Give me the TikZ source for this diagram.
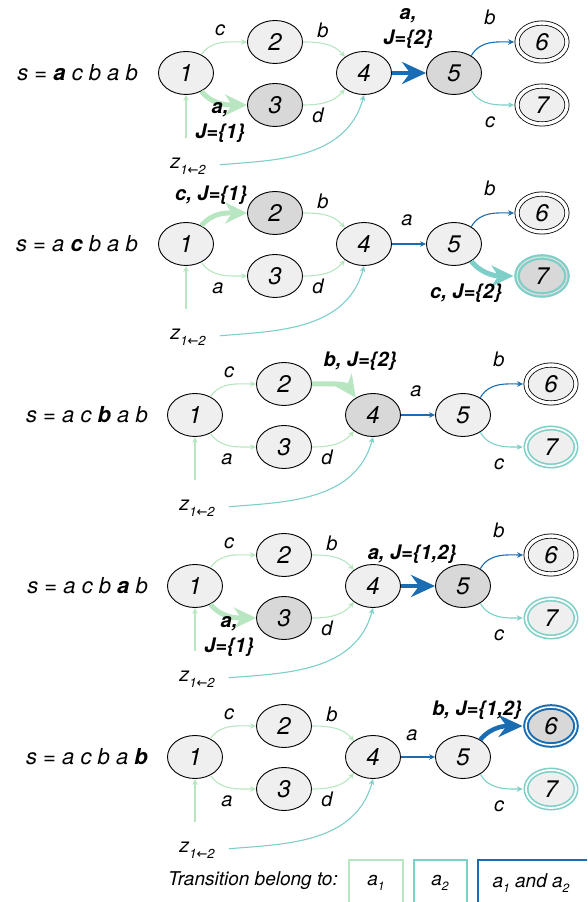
\documentclass[tikz,border=0pt]{standalone}
\usepackage{fontspec}
\setmainfont{TeX Gyre Heros}
\newfontfamily\arrfont{DejaVu Sans}
\usetikzlibrary{shapes.geometric,arrows.meta}
\definecolor{cg}{HTML}{B8E6C1}
\definecolor{ct}{HTML}{7DCFC7}
\definecolor{cb}{HTML}{1A6DB2}
\definecolor{nfill}{HTML}{EFEFEF}
\definecolor{hfill}{HTML}{D8D8D8}
\newcommand{\zlab}{z\raisebox{-6pt}{\fontsize{13}{13}\selectfont 1{\arrfont\upshape ←}2}}
\newcommand{\lsub}[1]{\raisebox{-5pt}{\fontsize{12}{12}\selectfont #1}}
\tikzset{
  st/.style={ellipse, draw=black, line width=0.9pt, fill=nfill, minimum width=55pt, minimum height=43pt, inner sep=0pt, font=\fontsize{24}{24}\selectfont\itshape},
  acc/.style={st, minimum width=50pt, minimum height=38pt, double=white, double distance=3.4pt, line width=0.8pt},
  hl/.style={fill=hfill},
  tring/.style={draw=ct, line width=1.6pt, double=white, double distance=1.8pt},
  tringhl/.style={draw=ct, line width=2.2pt, double=gray!25, double distance=1.2pt, fill=hfill},
  bring/.style={draw=cb, line width=2pt, double=white, double distance=1.6pt, fill=hfill},
  lab/.style={font=\fontsize{20}{20}\selectfont\itshape, inner sep=0pt},
  blab/.style={font=\fontsize{20}{25}\selectfont\bfseries\itshape, inner sep=0pt, align=center},
  slab/.style={font=\fontsize{22}{22}\selectfont\itshape, anchor=east, inner sep=0pt},
  zl/.style={font=\fontsize{20}{20}\selectfont\itshape, inner sep=0pt},
  thin/.style={line width=1.1pt, -{Stealth[length=6pt,width=5.5pt]}},
  ge/.style={thin, draw=cg},
  te/.style={thin, draw=ct},
  be/.style={thin, draw=cb},
  gthick/.style={draw=cg, line width=5pt, -{Stealth[length=22pt,width=21pt,inset=7pt]}},
  tthick/.style={draw=ct, line width=5pt, -{Stealth[length=22pt,width=21pt,inset=7pt]}},
  bthick/.style={draw=cb, line width=4.5pt, -{Stealth[length=24pt,width=22pt,inset=8pt]}},
  legbox/.style={line width=2pt},
  legtext/.style={font=\fontsize{19}{19}\selectfont\itshape, inner sep=0pt},
}
\begin{document}
\begin{tikzpicture}[x=1pt,y=1pt]
\useasboundingbox (0,0) rectangle (587,902);
\clip (0,0) rectangle (587,902);

% ================= Row 1 =================
\begin{scope}[shift={(186,829)}]
\node[slab] (r1s) at (-48,0) {s = \textbf{a} c b a b};
\node[st] (r1n1) at (0,0) {1};
\node[st] (r1n2) at (89,31) {2};
\node[st,hl] (r1n3) at (89,-32) {3};
\node[st] (r1n4) at (178,0) {4};
\node[st,hl] (r1n5) at (268,0) {5};
\node[acc] (r1n6) at (356,31) {6};
\node[acc] (r1n7) at (356,-32) {7};
\node[zl] (r1z) at (2,-93) {\zlab};
\draw[ge] (r1n1.50) to[out=55,in=180] (r1n2.west);
\draw[gthick] (r1n1.-50) to[out=-50,in=180] (r1n3.west);
\draw[ge] (r1n2.east) to[out=0,in=130] (r1n4.140);
\draw[ge] (r1n3.east) to[out=0,in=-130] (r1n4.-140);
\draw[bthick] (r1n4.east) -- (r1n5.west);
\draw[be,shorten >=2.5pt] (r1n5.45) to[out=60,in=180] (r1n6.west);
\draw[te,shorten >=2.5pt] (r1n5.-45) to[out=-60,in=180] (r1n7.west);
\draw[ge,shorten <=20pt] (r1z.north -| r1n1.south) -- (r1n1.south);
\draw[te,shorten <=14pt] (r1z.east) to[out=5,in=-105] (r1n4.south);
\node[lab] (r1c) at (34,43) {c};
\node[lab] (r1b) at (137,43) {b};
\node[lab] (r1d) at (132,-42) {d};
\node[lab] (r1b2) at (304,56) {b};
\node[lab] (r1c2) at (304,-49) {c};
\node[blab] (r1j1) at (34,-50) {a,\\J=\{1\}};
\node[blab] (r1j2) at (222,44) {a,\\J=\{2\}};
\end{scope}

% ================= Row 2 =================
\begin{scope}[shift={(186,658)}]
\node[slab] (r2s) at (-48,0) {s = a \textbf{c} b a b};
\node[st] (r2n1) at (0,0) {1};
\node[st,hl] (r2n2) at (89,31) {2};
\node[st] (r2n3) at (89,-32) {3};
\node[st] (r2n4) at (178,0) {4};
\node[st] (r2n5) at (268,0) {5};
\node[acc] (r2n6) at (356,31) {6};
\node[acc,tringhl] (r2n7) at (356,-32) {7};
\node[zl] (r2z) at (2,-93) {\zlab};
\draw[gthick] (r2n1.50) to[out=50,in=180] (r2n2.west);
\draw[ge] (r2n1.-50) to[out=-55,in=180] (r2n3.west);
\draw[ge] (r2n2.east) to[out=0,in=130] (r2n4.140);
\draw[ge] (r2n3.east) to[out=0,in=-130] (r2n4.-140);
\draw[be] (r2n4.east) -- (r2n5.west);
\draw[be,shorten >=2.5pt] (r2n5.45) to[out=60,in=180] (r2n6.west);
\draw[tthick,shorten >=2.5pt] (r2n5.-45) to[out=-50,in=180] (r2n7.west);
\draw[ge,shorten <=20pt] (r2z.north -| r2n1.south) -- (r2n1.south);
\draw[te,shorten <=14pt] (r2z.east) to[out=5,in=-105] (r2n4.south);
\node[lab] (r2a) at (32,-44) {a};
\node[lab] (r2b) at (137,43) {b};
\node[lab] (r2d) at (132,-42) {d};
\node[lab] (r2a2) at (221,24) {a};
\node[lab] (r2b2) at (304,56) {b};
\node[blab] (r2j1) at (25,49) {c, J=\{1\}};
\node[blab] (r2j2) at (280,-49) {c, J=\{2\}};
\end{scope}

% ================= Row 3 =================
\begin{scope}[shift={(195,487)}]
\node[slab] (r3s) at (-47,0) {s = a c \textbf{b} a b};
\node[st] (r3n1) at (0,0) {1};
\node[st] (r3n2) at (89,31) {2};
\node[st] (r3n3) at (89,-32) {3};
\node[st,hl] (r3n4) at (178,0) {4};
\node[st] (r3n5) at (268,0) {5};
\node[acc] (r3n6) at (356,31) {6};
\node[acc,tring] (r3n7) at (356,-32) {7};
\node[zl] (r3z) at (2,-93) {\zlab};
\draw[ge] (r3n1.50) to[out=55,in=180] (r3n2.west);
\draw[ge] (r3n1.-50) to[out=-55,in=180] (r3n3.west);
\draw[gthick] (r3n2.east) to[out=0,in=125] (r3n4.135);
\draw[ge] (r3n3.east) to[out=0,in=-130] (r3n4.-140);
\draw[be] (r3n4.east) -- (r3n5.west);
\draw[be,shorten >=2.5pt] (r3n5.45) to[out=60,in=180] (r3n6.west);
\draw[te,shorten >=2.5pt] (r3n5.-45) to[out=-60,in=180] (r3n7.west);
\draw[ge,shorten <=20pt] (r3z.north -| r3n1.south) -- (r3n1.south);
\draw[te,shorten <=14pt] (r3z.east) to[out=5,in=-105] (r3n4.south);
\node[lab] (r3c) at (34,43) {c};
\node[lab] (r3a) at (32,-44) {a};
\node[lab] (r3d) at (132,-42) {d};
\node[lab] (r3a2) at (221,24) {a};
\node[lab] (r3b2) at (304,56) {b};
\node[lab] (r3c2) at (304,-49) {c};
\node[blab] (r3j1) at (165,54) {b, J=\{2\}};
\end{scope}

% ================= Row 4 =================
\begin{scope}[shift={(195,316)}]
\node[slab] (r4s) at (-47,0) {s = a c b \textbf{a} b};
\node[st] (r4n1) at (0,0) {1};
\node[st] (r4n2) at (89,31) {2};
\node[st,hl] (r4n3) at (89,-32) {3};
\node[st] (r4n4) at (178,0) {4};
\node[st,hl] (r4n5) at (268,0) {5};
\node[acc] (r4n6) at (356,31) {6};
\node[acc,tring] (r4n7) at (356,-32) {7};
\node[zl] (r4z) at (2,-93) {\zlab};
\draw[ge] (r4n1.50) to[out=55,in=180] (r4n2.west);
\draw[gthick] (r4n1.-50) to[out=-50,in=180] (r4n3.west);
\draw[ge] (r4n2.east) to[out=0,in=130] (r4n4.140);
\draw[ge] (r4n3.east) to[out=0,in=-130] (r4n4.-140);
\draw[bthick] (r4n4.east) -- (r4n5.west);
\draw[be,shorten >=2.5pt] (r4n5.45) to[out=60,in=180] (r4n6.west);
\draw[te,shorten >=2.5pt] (r4n5.-45) to[out=-60,in=180] (r4n7.west);
\draw[ge,shorten <=20pt] (r4z.north -| r4n1.south) -- (r4n1.south);
\draw[te,shorten <=14pt] (r4z.east) to[out=5,in=-105] (r4n4.south);
\node[lab] (r4c) at (34,43) {c};
\node[lab] (r4b) at (137,43) {b};
\node[lab] (r4d) at (132,-42) {d};
\node[lab] (r4b2) at (304,56) {b};
\node[lab] (r4c2) at (304,-49) {c};
\node[blab] (r4j1) at (34,-51) {a,\\J=\{1\}};
\node[blab] (r4j2) at (217,32) {a, J=\{1,2\}};
\end{scope}

% ================= Row 5 =================
\begin{scope}[shift={(195,145)}]
\node[slab] (r5s) at (-47,0) {s = a c b a \textbf{b}};
\node[st] (r5n1) at (0,0) {1};
\node[st] (r5n2) at (89,31) {2};
\node[st] (r5n3) at (89,-32) {3};
\node[st] (r5n4) at (178,0) {4};
\node[st] (r5n5) at (268,0) {5};
\node[acc,bring] (r5n6) at (356,31) {6};
\node[acc,tring] (r5n7) at (356,-32) {7};
\node[zl] (r5z) at (2,-93) {\zlab};
\draw[ge] (r5n1.50) to[out=55,in=180] (r5n2.west);
\draw[ge] (r5n1.-50) to[out=-55,in=180] (r5n3.west);
\draw[ge] (r5n2.east) to[out=0,in=130] (r5n4.140);
\draw[ge] (r5n3.east) to[out=0,in=-130] (r5n4.-140);
\draw[be] (r5n4.east) -- (r5n5.west);
\draw[bthick,shorten >=2.5pt] (r5n5.45) to[out=50,in=180] (r5n6.west);
\draw[te,shorten >=2.5pt] (r5n5.-45) to[out=-60,in=180] (r5n7.west);
\draw[ge,shorten <=20pt] (r5z.north -| r5n1.south) -- (r5n1.south);
\draw[te,shorten <=14pt] (r5z.east) to[out=5,in=-105] (r5n4.south);
\node[lab] (r5c) at (34,43) {c};
\node[lab] (r5a) at (32,-44) {a};
\node[lab] (r5b) at (137,43) {b};
\node[lab] (r5d) at (132,-42) {d};
\node[lab] (r5a2) at (217,22) {a};
\node[lab] (r5c2) at (304,-49) {c};
\node[blab] (r5j1) at (282,47) {b, J=\{1,2\}};
\end{scope}

% ================= Legend =================
\node[legtext, anchor=east] (legt) at (338,21) {Transition belong to:};
\draw[legbox, draw=cg] (349,-10) rectangle (403,42);
\draw[legbox, draw=ct] (414,-10) rectangle (467,42);
\draw[legbox, draw=cb] (478,-10) rectangle (600,42);
\node[legtext] (lg1) at (376,19) {a\lsub{1}};
\node[legtext] (lg2) at (440,19) {a\lsub{2}};
\node[legtext] (lg3) at (531,19) {a\lsub{1} and a\lsub{2}};
\end{tikzpicture}
\end{document}
